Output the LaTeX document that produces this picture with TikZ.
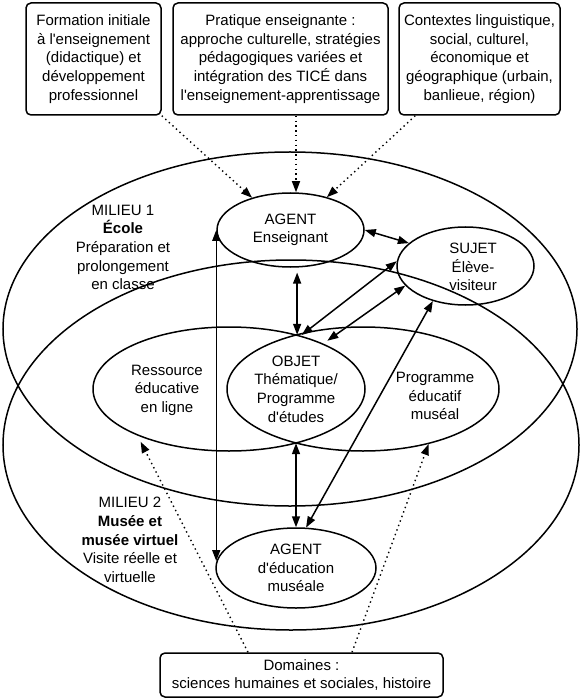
\documentclass[tikz,border=0pt]{standalone}
\usepackage{fontspec}
\newfontfamily\lsans{Liberation Sans}
\usetikzlibrary{shapes.geometric,arrows.meta,calc}
\begin{document}
\begin{tikzpicture}[x=1pt,y=-1pt,
  txt/.style={font=\lsans\fontsize{15}{18.6}\selectfont, align=center, inner sep=0pt},
  topbox/.style={txt, draw, rounded corners=5pt, line width=1.5pt},
  oval/.style={txt, draw, ellipse, line width=1.5pt, inner sep=0pt},
  lens/.style={txt, ellipse, inner sep=0pt},
  link/.style={line width=1.5pt, {Triangle[length=11pt,width=8pt]}-{Triangle[length=11pt,width=8pt]}},
  influence/.style={line width=1.4pt, dash pattern=on 1.4pt off 3.4pt, -{Triangle[length=11pt,width=8pt]}},
]
\useasboundingbox (0,0) rectangle (580,700);

% top boxes
\node[topbox, minimum width=135pt, minimum height=112pt] (b1) at (93.5,59)
  {Formation initiale\\à l'enseignement\\(didactique) et\\développement\\professionnel};
\node[topbox, minimum width=215pt, minimum height=112pt] (b2) at (280.5,59)
  {Pratique enseignante :\\approche culturelle, stratégies\\pédagogiques variées et\\intégration des TICÉ dans\\l'enseignement-apprentissage};
\node[topbox, minimum width=161pt, minimum height=112pt] (b3) at (479.5,59)
  {Contextes linguistique,\\social, culturel,\\économique et\\géographique (urbain,\\banlieue, région)};

% milieux
\node[oval, minimum width=574pt, minimum height=354pt] (m1) at (290,329) {};
\node[oval, minimum width=576pt, minimum height=370pt] (m2) at (291,445) {};

% inner ellipses (their overlap is the OBJET lens)
\node[oval, minimum width=272pt, minimum height=124pt] (res) at (229,389) {};
\node[oval, minimum width=272pt, minimum height=124pt] (prog) at (363,389) {};
\node[lens, minimum width=137pt, minimum height=108pt] (obj) at (296,389)
  {OBJET\\Thématique/\\Programme\\d'études};
\node[oval, minimum width=147pt, minimum height=74pt] (agE) at (290.5,230)
  {AGENT\\Enseignant};
\node[oval, minimum width=137pt, minimum height=78pt] (suj) at (465.5,266) {};
\node[txt] (sujt) at (473,267) {SUJET\\Élève-\\visiteur};
\node[oval, minimum width=160pt, minimum height=80pt] (agM) at (296,568)
  {AGENT\\d'éducation\\muséale};

% labels
\node[txt] (l1) at (123,247.5) {MILIEU 1\\\textbf{École}\\Préparation et\\prolongement\\en classe};
\node[txt] (l2) at (130,540) {MILIEU 2\\\textbf{Musée et}\\\textbf{musée virtuel}\\Visite réelle et\\virtuelle};
\node[txt] (rt) at (167,390) {Ressource\\éducative\\en ligne};
\node[txt] (pt) at (435,396) {Programme\\éducatif\\muséal};

% bottom box
\node[topbox, minimum width=283pt, minimum height=44pt] (dom) at (301.5,675)
  {Domaines :\\sciences humaines et sociales, histoire};

% solid connectors
\draw[link] (agE.east) -- (suj.158.5);
\draw[link, shorten <=5pt] (agE.-80) -- (agE.-80 |- obj.north);
\draw[link] (obj.84) -- (suj.176);
\draw[link] (obj.57) -- (suj.198);
\draw[link] (suj.227) -- (agM.76);
\draw[link] (obj.south) -- (agM.north);
\draw[link] (agE.west) -- (agE.west |- agM.175);

% dotted influences
\draw[influence] (b1.south east) -- (agE.140);
\draw[influence] (b2.south -| obj.north) -- (agE.north -| obj.north);
\draw[influence] ($(b3.south west)+(17,0)$) -- (agE.42);
\draw[influence, shorten >=7pt] ($(dom.north)+(-53.5,0)$) -- (res.207.8);
\draw[influence] ($(dom.north)+(50.5,0)$) -- (prog.320);
\end{tikzpicture}
\end{document}
